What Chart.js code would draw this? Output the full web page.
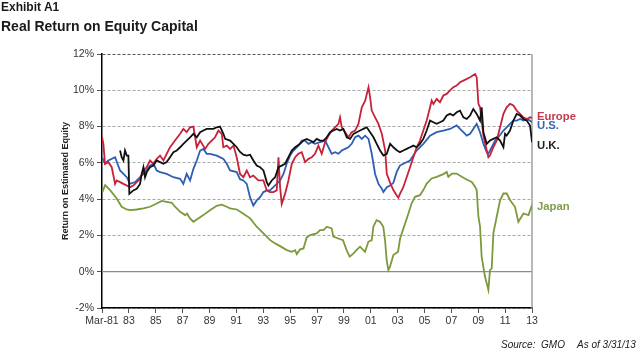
<!DOCTYPE html>
<html>
<head>
<meta charset="utf-8">
<script src="https://cdn.jsdelivr.net/npm/chart.js@4.4.0/dist/chart.umd.min.js"></script>
<style>
html,body{margin:0;padding:0;background:#fff;}
#wrap{position:relative;width:640px;height:355px;overflow:hidden;font-family:"Liberation Sans",Arial,sans-serif;}
#c{position:absolute;left:0;top:0;}
.t{position:absolute;white-space:nowrap;line-height:1;}
</style>
</head>
<body>
<div id="wrap">
<canvas id="c" width="640" height="355"></canvas>
<div class="t" style="left:1px;top:1px;font-weight:bold;font-size:12px;color:#1a1a1a">Exhibit A1</div>
<div class="t" style="left:1px;top:19px;font-weight:bold;font-size:14px;color:#1a1a1a">Real Return on Equity Capital</div>
<div class="t" style="left:537px;top:111px;font-weight:bold;font-size:11.3px;color:#c23c50">Europe</div>
<div class="t" style="left:537px;top:120px;font-weight:bold;font-size:11.3px;color:#3a63b3">U.S.</div>
<div class="t" style="left:537px;top:140px;font-weight:bold;font-size:11.3px;color:#222">U.K.</div>
<div class="t" style="left:537px;top:201px;font-weight:bold;font-size:11.3px;color:#7f9d4a">Japan</div>
<div class="t" style="left:501px;top:340px;font-style:italic;font-size:10px;color:#222">Source:&nbsp; GMO</div>
<div class="t" style="left:577px;top:340px;font-style:italic;font-size:10px;color:#222">As of 3/31/13</div>
</div>
<script>
// ---- data (decimal year, % real return on estimated equity) ----
const START = 1981 + 2 / 12; // Mar-81
const tickLabels = ['Mar-81','83','85','87','89','91','93','95','97','99','01','03','05','07','09','11','13'];
const yTicks = [-2, 0, 2, 4, 6, 8, 10, 12];
const seriesNames = ['U.K.', 'Europe', 'U.S.', 'Japan'];

const ukData = [
[1982.51,6.68],[1982.63,6.31],[1982.76,6.13],[1982.88,6.68],[1983.01,6.4],[1983.13,6.4],[1983.2,4.29],
[1983.5,4.48],[1983.75,4.57],[1984.0,4.84],[1984.12,5.39],[1984.25,5.76],[1984.37,5.21],[1984.5,5.49],
[1984.74,5.76],[1984.99,5.85],[1985.24,6.13],[1985.49,6.04],[1985.74,5.95],[1985.98,6.04],[1986.23,6.31],
[1986.48,6.59],[1986.73,6.68],[1986.98,6.86],[1987.22,7.05],[1987.47,7.23],[1987.72,7.41],[1987.97,7.6],
[1988.22,7.41],[1988.47,7.69],[1988.71,7.78],[1988.96,7.87],[1989.21,7.87],[1989.46,7.87],[1989.71,7.96],
[1989.95,8.0],[1990.2,7.6],[1990.33,7.32],[1990.7,7.23],[1990.95,7.05],[1991.19,6.86],[1991.44,6.6],
[1991.69,6.45],[1991.94,6.4],[1992.19,6.45],[1992.43,6.13],[1992.68,5.85],[1992.93,5.76],[1993.18,5.58],
[1993.43,4.94],[1993.55,4.75],[1993.8,5.03],[1994.05,5.21],[1994.3,5.76],[1994.54,5.85],[1994.79,5.95],
[1995.04,6.31],[1995.29,6.68],[1995.54,6.86],[1995.91,7.05],[1996.16,7.23],[1996.4,7.32],[1996.65,7.23],
[1996.9,7.14],[1997.15,7.32],[1997.4,7.23],[1997.65,7.23],[1997.89,7.41],[1998.14,7.69],[1998.39,7.78],
[1998.64,7.87],[1998.88,7.78],[1999.13,7.87],[1999.38,7.41],[1999.63,7.32],[1999.88,7.6],[2000.12,7.69],
[2000.37,7.78],[2000.62,7.87],[2000.87,7.96],[2001.12,7.69],[2001.37,7.41],[2001.61,7.05],[2001.86,6.68],
[2002.11,6.4],[2002.36,6.5],[2002.61,7.05],[2002.85,6.86],[2003.1,6.7],[2003.34,6.59],[2003.59,6.68],
[2003.84,6.77],[2004.09,6.86],[2004.34,6.95],[2004.58,6.86],[2004.83,7.05],[2005.08,7.32],[2005.33,7.78],
[2005.58,8.33],[2005.83,8.24],[2006.07,8.15],[2006.32,8.24],[2006.57,8.33],[2006.82,8.61],[2007.07,8.7],
[2007.31,8.61],[2007.56,8.79],[2007.81,8.88],[2008.06,8.51],[2008.31,8.42],[2008.56,8.61],[2008.8,8.97],
[2009.05,8.7],[2009.3,8.33],[2009.42,9.06],[2009.55,7.69],[2009.8,7.05],[2010.04,7.23],[2010.29,7.32],
[2010.54,7.41],[2010.79,7.23],[2011.04,6.86],[2011.16,7.6],[2011.28,7.5],[2011.53,7.78],[2011.78,8.33],
[2012.03,8.7],[2012.28,8.61],[2012.53,8.42],[2012.78,8.33],[2013.02,8.06],[2013.17,7.14]
];

const europeData = [
[1981.17,7.41],[1981.27,7.05],[1981.39,5.95],[1981.64,6.04],[1981.89,5.76],[1982.14,4.84],[1982.26,5.03],
[1982.51,4.94],[1982.76,4.84],[1983.01,4.75],[1983.25,4.66],[1983.5,4.75],[1983.75,4.94],[1984.0,5.12],
[1984.25,5.58],[1984.5,5.76],[1984.74,6.13],[1984.99,5.95],[1985.24,6.22],[1985.49,6.4],[1985.74,6.13],
[1985.98,6.5],[1986.23,6.86],[1986.6,7.23],[1986.98,7.6],[1987.22,7.87],[1987.47,7.69],[1987.72,7.96],
[1987.97,8.0],[1988.22,6.86],[1988.47,7.23],[1988.84,6.77],[1989.09,7.05],[1989.33,7.23],[1989.58,7.41],
[1989.83,7.78],[1990.08,7.6],[1990.2,6.86],[1990.45,6.95],[1990.7,6.77],[1990.95,6.95],[1991.19,6.31],
[1991.44,5.39],[1991.69,5.21],[1991.94,5.58],[1992.18,5.21],[1992.43,5.3],[1992.8,5.03],[1993.18,5.03],
[1993.43,4.48],[1993.67,4.39],[1993.92,4.39],[1994.17,4.48],[1994.3,6.31],[1994.42,4.66],[1994.54,3.74],
[1994.79,4.29],[1995.04,5.03],[1995.29,5.95],[1995.54,6.31],[1995.78,6.5],[1996.03,6.59],[1996.28,6.04],
[1996.53,6.22],[1996.78,6.31],[1997.02,6.5],[1997.27,6.95],[1997.52,6.5],[1997.77,7.14],[1998.02,7.5],
[1998.26,7.78],[1998.51,7.96],[1998.76,8.15],[1998.88,8.51],[1999.01,7.96],[1999.26,7.69],[1999.5,7.41],
[1999.75,7.69],[2000.0,7.78],[2000.25,8.15],[2000.5,9.06],[2000.75,9.43],[2001.0,10.17],[2001.12,9.61],
[2001.24,8.88],[2001.49,8.51],[2001.74,8.15],[2001.99,7.6],[2002.24,6.68],[2002.36,5.39],[2002.61,4.9],
[2002.85,4.5],[2003.1,4.2],[2003.22,4.08],[2003.34,4.29],[2003.59,4.66],[2003.84,5.21],[2004.09,5.76],
[2004.34,6.31],[2004.58,6.86],[2004.83,7.23],[2005.08,7.78],[2005.33,8.33],[2005.58,9.06],[2005.7,9.43],
[2005.83,9.25],[2006.07,9.52],[2006.32,9.34],[2006.57,9.71],[2006.82,9.8],[2007.07,10.0],[2007.31,10.17],
[2007.56,10.26],[2007.81,10.44],[2008.06,10.53],[2008.56,10.72],[2008.93,10.9],[2009.05,10.72],[2009.18,9.25],
[2009.3,9.06],[2009.55,7.5],[2009.8,6.68],[2009.92,6.31],[2010.04,6.4],[2010.29,6.86],[2010.54,7.23],
[2010.79,7.96],[2011.04,8.7],[2011.28,9.06],[2011.53,9.25],[2011.78,9.16],[2012.03,8.88],[2012.28,8.7],
[2012.53,8.51],[2012.78,8.42],[2013.02,8.51],[2013.17,8.48]
];

const usData = [
[1981.17,6.31],[1981.39,5.95],[1981.64,6.13],[1982.14,6.31],[1982.51,5.58],[1983.01,5.21],[1983.25,4.84],
[1983.63,4.94],[1984.0,5.21],[1984.37,5.49],[1984.74,5.85],[1984.99,5.95],[1985.24,5.58],[1985.49,5.49],
[1985.98,5.39],[1986.48,5.21],[1986.98,5.12],[1987.22,4.84],[1987.47,5.39],[1987.72,5.03],[1987.97,5.67],
[1988.22,6.13],[1988.47,6.68],[1988.71,6.77],[1988.96,6.5],[1989.21,6.5],[1989.71,6.4],[1990.2,6.22],
[1990.45,5.95],[1990.7,5.58],[1991.19,5.49],[1991.44,5.1],[1991.69,5.03],[1991.94,4.84],[1992.18,4.11],
[1992.43,3.65],[1992.68,3.93],[1992.93,4.11],[1993.18,4.39],[1993.43,4.48],[1993.67,4.48],[1993.92,4.66],
[1994.17,4.84],[1994.42,5.03],[1994.67,5.39],[1994.91,5.95],[1995.16,6.4],[1995.41,6.68],[1995.78,6.95],
[1996.03,7.23],[1996.28,7.23],[1996.53,7.05],[1996.78,7.14],[1997.02,7.05],[1997.4,7.14],[1997.77,7.23],
[1998.02,6.86],[1998.26,6.5],[1998.51,6.59],[1998.76,6.5],[1999.01,6.68],[1999.26,6.77],[1999.5,6.86],
[1999.75,7.05],[2000.0,7.41],[2000.25,7.5],[2000.5,7.32],[2000.75,7.5],[2001.0,7.32],[2001.24,6.5],
[2001.49,5.39],[2001.74,4.84],[2001.99,4.57],[2002.11,4.39],[2002.36,4.66],[2002.61,4.75],[2002.85,4.9],
[2003.1,5.5],[2003.34,5.85],[2003.59,5.95],[2004.09,6.13],[2004.58,6.68],[2005.08,7.05],[2005.58,7.5],
[2006.07,7.69],[2006.57,7.78],[2007.07,7.87],[2007.56,8.06],[2007.81,7.87],[2008.06,7.69],[2008.31,7.5],
[2008.56,7.6],[2008.8,7.87],[2009.05,8.15],[2009.3,7.69],[2009.55,7.05],[2009.8,6.59],[2009.92,6.5],
[2010.17,6.86],[2010.42,7.23],[2010.66,7.41],[2011.04,7.78],[2011.28,7.96],[2011.53,8.15],[2011.78,8.33],
[2012.03,8.33],[2012.28,8.42],[2012.53,8.33],[2012.78,8.42],[2013.02,8.33],[2013.17,8.24]
];

const japanData = [
[1981.2,4.4],[1981.4,4.77],[1981.77,4.5],[1982.26,4.04],[1982.63,3.58],[1983.0,3.43],[1983.25,3.39],
[1983.75,3.43],[1984.25,3.49],[1984.74,3.58],[1985.24,3.76],[1985.61,3.9],[1985.98,3.85],[1986.36,3.8],
[1986.6,3.58],[1986.98,3.3],[1987.35,3.12],[1987.5,3.2],[1987.72,2.94],[1987.97,2.75],[1988.22,2.88],
[1988.71,3.12],[1989.2,3.39],[1989.7,3.63],[1990.08,3.7],[1990.45,3.58],[1990.7,3.49],[1991.2,3.43],
[1991.69,3.2],[1992.19,2.94],[1992.68,2.48],[1993.18,2.11],[1993.68,1.74],[1994.05,1.56],[1994.42,1.41],
[1994.92,1.19],[1995.29,1.1],[1995.54,1.19],[1995.66,0.97],[1995.91,1.23],[1996.16,1.28],[1996.4,1.89],
[1996.65,2.02],[1997.15,2.11],[1997.39,2.29],[1997.65,2.29],[1997.9,2.48],[1998.26,2.39],[1998.38,1.93],
[1998.75,1.83],[1999.1,1.74],[1999.37,1.19],[1999.6,0.83],[1999.87,1.0],[2000.1,1.19],[2000.37,1.38],
[2000.74,1.1],[2000.99,1.65],[2001.24,1.74],[2001.36,2.48],[2001.6,2.84],[2001.86,2.75],[2002.1,2.48],
[2002.23,1.74],[2002.35,0.64],[2002.48,0.09],[2002.6,0.28],[2002.85,0.92],[2003.2,1.1],[2003.35,1.83],
[2003.6,2.39],[2003.97,3.21],[2004.2,3.76],[2004.46,4.13],[2004.83,4.22],[2005.08,4.5],[2005.33,4.86],
[2005.7,5.14],[2006.07,5.23],[2006.57,5.38],[2006.82,5.5],[2006.94,5.23],[2007.2,5.41],[2007.56,5.41],
[2007.94,5.23],[2008.3,5.08],[2008.68,4.95],[2008.93,4.68],[2009.05,4.5],[2009.18,3.03],[2009.3,2.48],
[2009.42,0.83],[2009.67,-0.28],[2009.92,-1.0],[2010.04,0.09],[2010.17,0.18],[2010.29,2.11],[2010.54,3.03],
[2010.79,3.94],[2011.04,4.31],[2011.29,4.31],[2011.54,3.94],[2011.9,3.58],[2012.15,2.75],[2012.53,3.21],
[2012.9,3.12],[2013.17,3.67]
];

// ---- chart ----
const FONT = "'Liberation Sans', Arial, sans-serif";
Chart.defaults.font.family = FONT;

const toXY = arr => arr.map(p => ({x: p[0], y: p[1]}));
const colors = {'U.K.': '#111111', 'Europe': '#c8223a', 'U.S.': '#2f5fb3', 'Japan': '#7a9a3c'};
const seriesData = {'U.K.': ukData, 'Europe': europeData, 'U.S.': usData, 'Japan': japanData};

const extraLines = {
  id: 'extraLines',
  beforeDatasetsDraw(chart) {
    const {ctx, chartArea, scales} = chart;
    const y0 = scales.y.getPixelForValue(0);
    ctx.save();
    ctx.strokeStyle = '#8c8c8c';
    ctx.lineWidth = 1.3;
    ctx.beginPath();
    ctx.moveTo(chartArea.left, y0);
    ctx.lineTo(chartArea.right, y0);
    ctx.stroke();
    ctx.strokeStyle = '#a0a0a0';
    ctx.lineWidth = 1.5;
    ctx.beginPath();
    ctx.moveTo(chartArea.right, chartArea.top);
    ctx.lineTo(chartArea.right, chartArea.bottom);
    ctx.stroke();
    ctx.restore();
  }
};

new Chart(document.getElementById('c'), {
  type: 'line',
  data: {
    datasets: seriesNames.map(n => ({
      label: n,
      data: toXY(seriesData[n]),
      borderColor: colors[n],
      borderWidth: 1.8,
      pointRadius: 0,
      tension: 0,
      fill: false
    }))
  },
  options: {
    responsive: false,
    animation: false,
    layout: {padding: {top: 54, right: 108, bottom: 0, left: 0}},
    plugins: {legend: {display: false}, tooltip: {enabled: false}},
    scales: {
      x: {
        type: 'linear',
        min: START,
        max: START + 2 * (tickLabels.length - 1),
        afterBuildTicks: s => { s.ticks = tickLabels.map((l, i) => ({value: START + 2 * i})); },
        ticks: {autoSkip: false, maxRotation: 0, color: '#333', font: {size: 10.5}, padding: 2,
                callback: (v, i) => tickLabels[i]},
        grid: {drawOnChartArea: false, tickLength: 5, color: '#555'},
        border: {color: '#000', width: 1.5},
        afterFit: s => { s.height = 47; }
      },
      y: {
        min: yTicks[0],
        max: yTicks[yTicks.length - 1],
        afterBuildTicks: s => { s.ticks = yTicks.map(v => ({value: v})); },
        ticks: {color: '#333', font: {size: 10.5}, padding: 3, callback: v => v + '%'},
        grid: {color: c => (c.tick && c.tick.value === 12) ? '#555' : '#a8a8a8', lineWidth: 1, tickLength: 5,
               tickColor: '#555'},
        border: {color: '#000', width: 1.5, dash: [3, 2]},
        title: {display: true, text: 'Return on Estimated Equity', color: '#222',
                font: {size: 9, weight: 'bold'}, padding: {top: 60, bottom: 0}},
        afterFit: s => { s.width = 102; }
      }
    }
  },
  plugins: [extraLines]
});
</script>
</body>
</html>
